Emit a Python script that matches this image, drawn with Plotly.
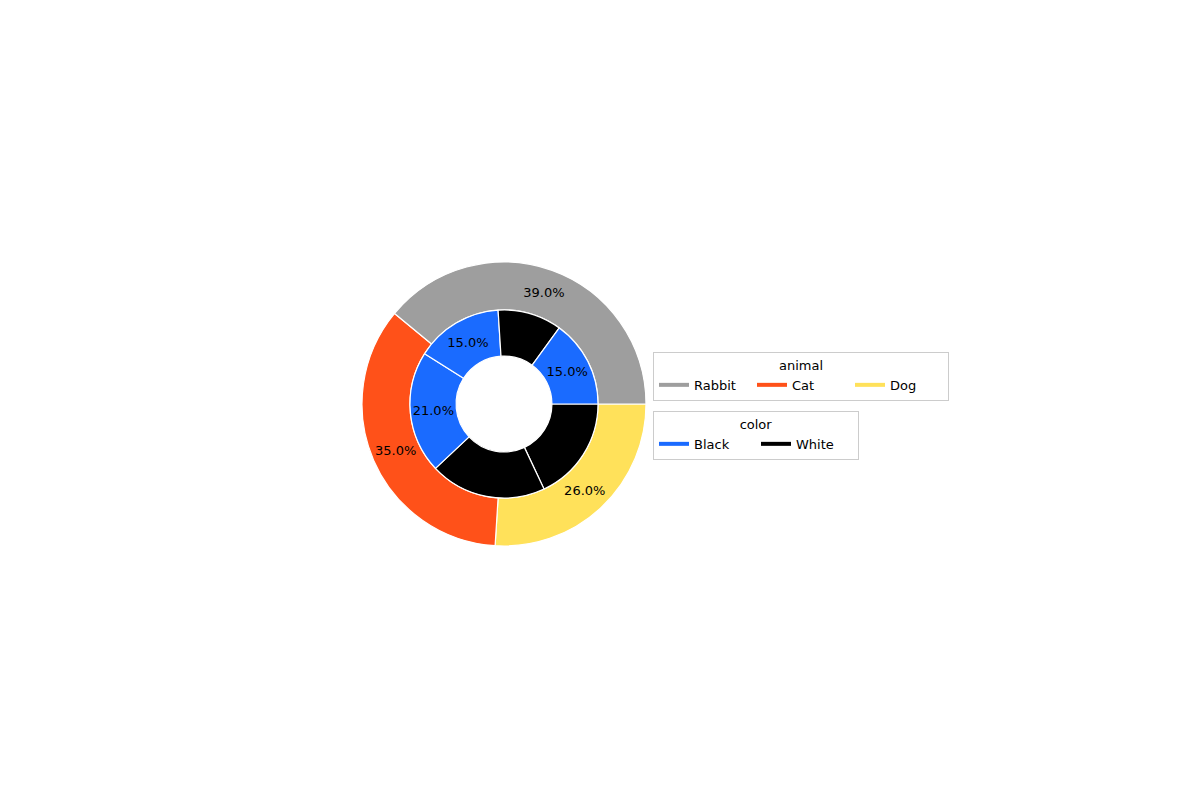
import plotly.graph_objects as go

# outer ring: animal shares
animals = ["Rabbit", "Cat", "Dog"]
animal_share = [39, 35, 26]
animal_colors = ["#9e9e9e", "#ff5119", "#ffe15a"]

# inner ring: color shares (counterclockwise from 3 o'clock)
inner_names = ["Black", "White", "Black", "Black", "White", "White"]
inner_share = [15, 11, 15, 21, 20, 18]
color_names = ["Black", "White"]
color_fill = {"Black": "#1a6bff", "White": "#000000"}

FONT = "DejaVu Sans"
OFF = 8  # page body margin in the saved html


def px_x(a, b):
    return [(a - OFF) / 1200, (b - OFF) / 1200]


def px_y(top, bottom):
    return [1 - (bottom - OFF) / 800, 1 - (top - OFF) / 800]


fig = go.Figure()

# drawn clockwise from 3 o'clock with reversed order == counterclockwise in data order
fig.add_trace(go.Pie(
    labels=animals[::-1], values=animal_share[::-1],
    marker=dict(colors=animal_colors[::-1], line=dict(color="white", width=1.2)),
    hole=0.662, sort=False, direction="clockwise", rotation=90,
    texttemplate="%{percent:.1%}", textposition="inside",
    insidetextorientation="horizontal",
    textfont=dict(color="black", size=13, family=FONT),
    domain=dict(x=px_x(362, 646), y=px_y(262, 546)),
    showlegend=False, hoverinfo="label+percent",
))

inner_labels = [f"{n} {i}" for i, n in enumerate(inner_names)]
fig.add_trace(go.Pie(
    labels=inner_labels[::-1], values=inner_share[::-1],
    marker=dict(colors=[color_fill[n] for n in inner_names[::-1]],
                line=dict(color="white", width=1.2)),
    hole=0.51, sort=False, direction="clockwise", rotation=90,
    texttemplate="%{percent:.1%}", textposition="inside",
    insidetextorientation="horizontal",
    textfont=dict(color="black", size=13, family=FONT),
    domain=dict(x=px_x(410, 598), y=px_y(310, 498)),
    showlegend=False, hoverinfo="percent",
))

# legend entries drawn as lines, like the original
for name, col in zip(animals, animal_colors):
    fig.add_trace(go.Scatter(x=[None], y=[None], mode="lines", name=name,
                             line=dict(color=col, width=4), legend="legend"))
for name in color_names:
    fig.add_trace(go.Scatter(x=[None], y=[None], mode="lines", name=name,
                             line=dict(color=color_fill[name], width=4), legend="legend2"))

leg = dict(orientation="h", xanchor="left", yanchor="top",
           bgcolor="white", bordercolor="#cccccc", borderwidth=1,
           font=dict(family=FONT, size=13, color="black"))

fig.update_layout(
    width=1200, height=800,
    margin=dict(l=0, r=0, t=0, b=0),
    paper_bgcolor="white", plot_bgcolor="white",
    font=dict(family=FONT, size=13, color="black"),
    xaxis=dict(visible=False), yaxis=dict(visible=False),
    legend=dict(leg, x=(653 - OFF) / 1200, y=1 - (352 - OFF) / 800, entrywidth=53,
                title=dict(text="animal", side="top center",
                           font=dict(family=FONT, size=13, color="black"))),
    legend2=dict(leg, x=(653 - OFF) / 1200, y=1 - (411 - OFF) / 800, entrywidth=57,
                 title=dict(text="color", side="top center",
                            font=dict(family=FONT, size=13, color="black"))),
)

fig.write_html("out.html")
